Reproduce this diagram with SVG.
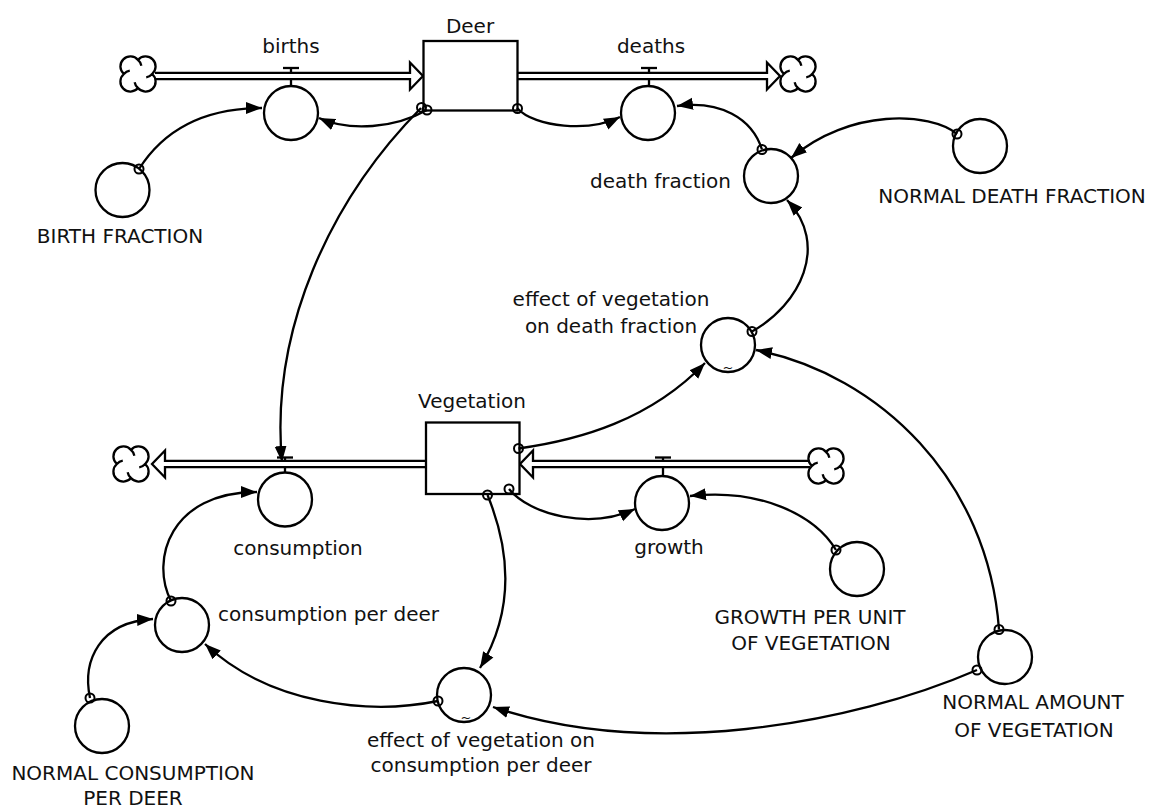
<svg xmlns="http://www.w3.org/2000/svg" xmlns:xlink="http://www.w3.org/1999/xlink" width="1149" height="809" viewBox="0 0 1149 809">
<style>
  text { font-family: "DejaVu Sans", "Liberation Sans", sans-serif; font-size: 20px; fill: #111; }
  .aux { fill: #fff; stroke: #000; stroke-width: 2.3; }
  .stock { fill: #fff; stroke: #000; stroke-width: 2.3; }
  .link { fill: none; stroke: #000; stroke-width: 2.3; marker-end: url(#ah); }
  .tail { fill: none; stroke: #000; stroke-width: 2; }
  .pipeO { fill: none; stroke: #000; stroke-width: 8.5; }
  .pipeI { fill: none; stroke: #fff; stroke-width: 4; }
  .phead { fill: #fff; stroke: #000; stroke-width: 2.3; stroke-linejoin: miter; }
  .valve { fill: none; stroke: #000; stroke-width: 2.3; }
  .cloud { fill: #fff; stroke: #000; stroke-width: 2.3; }
  .tilde { font-size: 13px; }
</style>
<defs>
  <marker id="ah" markerUnits="userSpaceOnUse" markerWidth="18" markerHeight="14" refX="16" refY="7" orient="auto">
    <path d="M0,1 L16,7 L0,13 z" fill="#000"/>
  </marker>
  <path id="cloudShape" class="cloud" d="M-14.1,0 A10,10 0 1 1 0,-14.1 A10,10 0 1 1 14.1,0 A10,10 0 1 1 0,14.1 A10,10 0 1 1 -14.1,0 Z M0,-14.1 A10,10 0 0 1 3.35,-8.24 M14.1,0 A10,10 0 0 1 8.24,3.35 M0,14.1 A10,10 0 0 1 -3.35,8.24 M-14.1,0 A10,10 0 0 1 -8.24,-3.35"/>
</defs>

<!-- flows (pipes, valves, clouds) -->
<g id="flow-births">
  <line class="valve" x1="291" y1="68" x2="291" y2="86"/>
  <line class="valve" x1="283" y1="68" x2="299" y2="68"/>
  <polygon class="phead" points="410,62.5 423,76 410,89.5"/>
  <line class="pipeO" x1="155" y1="76" x2="411" y2="76"/>
  <line class="pipeI" x1="154" y1="76" x2="412" y2="76"/>
  <use xlink:href="#cloudShape" href="#cloudShape" x="138" y="74"/>
  <text x="291" y="53" text-anchor="middle">births</text>
</g>
<g id="flow-deaths">
  <line class="valve" x1="649" y1="68" x2="649" y2="86"/>
  <line class="valve" x1="641" y1="68" x2="657" y2="68"/>
  <polygon class="phead" points="767,62.5 780,76 767,89.5"/>
  <line class="pipeO" x1="518" y1="76" x2="768" y2="76"/>
  <line class="pipeI" x1="518" y1="76" x2="769" y2="76"/>
  <use xlink:href="#cloudShape" href="#cloudShape" x="798" y="74"/>
  <text x="651" y="53" text-anchor="middle">deaths</text>
</g>
<g id="flow-consumption">
  <line class="valve" x1="285" y1="457.5" x2="285" y2="472.5"/>
  <line class="valve" x1="277" y1="457.5" x2="293" y2="457.5"/>
  <polygon class="phead" points="165,450.5 152,464 165,477.5"/>
  <line class="pipeO" x1="164" y1="464" x2="426" y2="464"/>
  <line class="pipeI" x1="163" y1="464" x2="426" y2="464"/>
  <use xlink:href="#cloudShape" href="#cloudShape" x="131" y="464"/>
</g>
<g id="flow-growth">
  <line class="valve" x1="663" y1="457.5" x2="663" y2="476"/>
  <line class="valve" x1="655" y1="457.5" x2="671" y2="457.5"/>
  <polygon class="phead" points="533,450.5 520,464 533,477.5"/>
  <line class="pipeO" x1="532" y1="464" x2="810" y2="464"/>
  <line class="pipeI" x1="531" y1="464" x2="810" y2="464"/>
  <use xlink:href="#cloudShape" href="#cloudShape" x="826" y="466"/>
</g>

<!-- stocks -->
<g id="Deer">
  <rect class="stock" x="423.5" y="41" width="94" height="69.5"/>
  <text x="470" y="33" text-anchor="middle">Deer</text>
</g>
<g id="Vegetation">
  <rect class="stock" x="426" y="422.5" width="93.5" height="71.5"/>
  <text x="472" y="408" text-anchor="middle">Vegetation</text>
</g>

<!-- auxiliaries -->
<g id="births">
  <circle class="aux" cx="291" cy="113" r="27"/>
</g>
<g id="deaths">
  <circle class="aux" cx="648" cy="113" r="27"/>
</g>
<g id="birth-fraction">
  <circle class="aux" cx="122.5" cy="190" r="27"/>
  <text x="120" y="243" text-anchor="middle">BIRTH FRACTION</text>
</g>
<g id="death-fraction">
  <circle class="aux" cx="771" cy="176" r="27"/>
  <text x="731" y="188" text-anchor="end">death fraction</text>
</g>
<g id="normal-death-fraction">
  <circle class="aux" cx="980" cy="146" r="27"/>
  <text x="1012" y="203" text-anchor="middle">NORMAL DEATH FRACTION</text>
</g>
<g id="effect-of-vegetation-on-death-fraction">
  <circle class="aux" cx="728" cy="345" r="27"/>
  <text class="tilde" x="728" y="372" text-anchor="middle">~</text>
  <text x="611" y="306" text-anchor="middle">effect of vegetation</text>
  <text x="611" y="333" text-anchor="middle">on death fraction</text>
</g>
<g id="consumption">
  <circle class="aux" cx="285" cy="499.5" r="27"/>
  <text x="298" y="555" text-anchor="middle">consumption</text>
</g>
<g id="growth">
  <circle class="aux" cx="662" cy="503" r="27"/>
  <text x="669" y="554" text-anchor="middle">growth</text>
</g>
<g id="growth-per-unit-of-vegetation">
  <circle class="aux" cx="857" cy="569" r="27"/>
  <text x="810" y="624" text-anchor="middle">GROWTH PER UNIT</text>
  <text x="811" y="650" text-anchor="middle">OF VEGETATION</text>
</g>
<g id="normal-amount-of-vegetation">
  <circle class="aux" cx="1005" cy="657" r="27"/>
  <text x="1033" y="709" text-anchor="middle">NORMAL AMOUNT</text>
  <text x="1034" y="737" text-anchor="middle">OF VEGETATION</text>
</g>
<g id="effect-of-vegetation-on-consumption-per-deer">
  <circle class="aux" cx="464" cy="695" r="27"/>
  <text class="tilde" x="466" y="722" text-anchor="middle">~</text>
  <text x="481" y="747" text-anchor="middle">effect of vegetation on</text>
  <text x="481" y="772" text-anchor="middle">consumption per deer</text>
</g>
<g id="consumption-per-deer">
  <circle class="aux" cx="182" cy="625" r="27"/>
  <text x="218" y="621" text-anchor="start">consumption per deer</text>
</g>
<g id="normal-consumption-per-deer">
  <circle class="aux" cx="102" cy="726" r="27"/>
  <text x="133" y="780" text-anchor="middle">NORMAL CONSUMPTION</text>
  <text x="133" y="805" text-anchor="middle">PER DEER</text>
</g>

<!-- connectors -->
<g id="connectors">
  <path class="link" d="M139,169 C165,128 205,108 262,108"/>
  <circle class="tail" cx="139" cy="169" r="4.5"/>
  <path class="link" d="M427,110 C395,128 350,132 319,118"/>
  <circle class="tail" cx="427" cy="110" r="4.5"/>
  <path class="link" d="M421,108 C330,200 270,330 282,462"/>
  <circle class="tail" cx="421.5" cy="107.5" r="4.5"/>
  <path class="link" d="M517,108 C535,128 590,132 620,117"/>
  <circle class="tail" cx="517.5" cy="108.5" r="4.5"/>
  <path class="link" d="M762,149.5 C752,118 720,100 677,106"/>
  <circle class="tail" cx="762" cy="149.5" r="4.5"/>
  <path class="link" d="M957,134 C930,112 850,108 791,158"/>
  <circle class="tail" cx="957" cy="134" r="4.5"/>
  <path class="link" d="M752,331.5 C800,305 830,245 787,200"/>
  <circle class="tail" cx="752" cy="331.5" r="4.5"/>
  <path class="link" d="M999,629.5 C988,480 880,375 756,350"/>
  <circle class="tail" cx="999" cy="629.5" r="4.5"/>
  <path class="link" d="M518.5,448.5 C580,440 650,420 705,363"/>
  <circle class="tail" cx="518.5" cy="448.5" r="4.5"/>
  <path class="link" d="M836,550 C815,515 760,488 690,496"/>
  <circle class="tail" cx="836" cy="550" r="4.5"/>
  <path class="link" d="M509,489 C530,515 590,530 635,509"/>
  <circle class="tail" cx="509" cy="489" r="4.5"/>
  <path class="link" d="M487.5,495 C510,550 515,610 480,668"/>
  <circle class="tail" cx="487.5" cy="495" r="4.5"/>
  <path class="link" d="M977,670 C850,725 650,760 493,707"/>
  <circle class="tail" cx="977" cy="670" r="4.5"/>
  <path class="link" d="M438,701 C370,715 270,705 205,644"/>
  <circle class="tail" cx="438" cy="701" r="4.5"/>
  <path class="link" d="M90,698 C82,660 100,622 153,619"/>
  <circle class="tail" cx="90" cy="698" r="4.5"/>
  <path class="link" d="M171,601 C150,560 170,492 257,492"/>
  <circle class="tail" cx="171" cy="601" r="4.5"/>
</g>
</svg>
